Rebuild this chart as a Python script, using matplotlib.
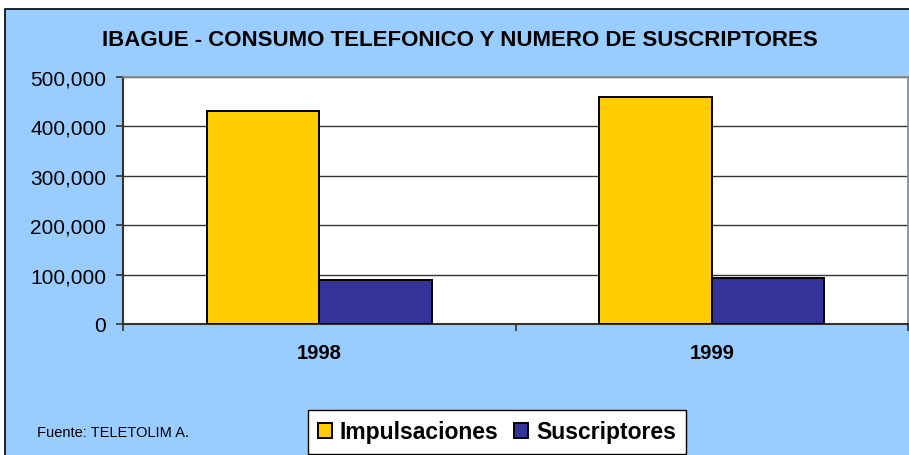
import matplotlib
matplotlib.use("Agg")
import matplotlib.pyplot as plt
from matplotlib.patches import Rectangle
from matplotlib.ticker import FuncFormatter, FixedLocator
import numpy as np

years = ["1998", "1999"]
impulsaciones = [432000, 459000]
suscriptores = [89000, 93000]
series_names = ["Impulsaciones", "Suscriptores"]
title = "IBAGUE - CONSUMO TELEFONICO Y NUMERO DE SUSCRIPTORES"
source = "Fuente: TELETOLIM A."

BG = "#99CCFF"
YEL = "#FFCC00"
BLU = "#333399"
SANS = ["Liberation Sans", "DejaVu Sans"]

W, H = 909, 456
fig = plt.figure(figsize=(W / 100, H / 100), dpi=100)
fig.patch.set_facecolor("white")

# chart area (cropped at right/bottom)
x0, ytop = 5 / W, (H - 10) / H
bgax = fig.add_axes([0, 0, 1, 1], zorder=-10)
bgax.set_axis_off()
bgax.set_xlim(0, 1)
bgax.set_ylim(0, 1)
bgax.add_patch(Rectangle((x0, -0.01), 1.02 - x0, ytop + 0.01,
                         facecolor=BG, edgecolor="black", linewidth=1.2, clip_on=False))

ax = fig.add_axes([123 / W, (H - 325) / H, (908 - 123) / W, (325 - 78) / H])
ax.set_facecolor("white")

x = np.arange(len(years))
bw = 0.287
ax.bar(x - bw, impulsaciones, width=bw, align="edge", color=YEL, edgecolor="black",
       linewidth=1.4, zorder=3, label=series_names[0])
ax.bar(x, suscriptores, width=bw, align="edge", color=BLU, edgecolor="black",
       linewidth=1.4, zorder=3, label=series_names[1])

ax.set_xlim(-0.5, 1.5)
ax.set_ylim(0, 500000)
ax.yaxis.set_major_locator(FixedLocator(np.arange(0, 500001, 100000)))
ax.yaxis.set_major_formatter(FuncFormatter(lambda v, p: f"{int(v):,}"))
ax.grid(axis="y", color="#333333", linewidth=1.0, zorder=1)

ax.set_xticks([-0.5, 0.5, 1.5])
ax.set_xticklabels([])
ax.set_xticks(x, minor=True)
ax.set_xticklabels(years, minor=True, fontsize=14.5, fontweight="bold", family=SANS)
ax.tick_params(axis="x", which="minor", length=0, pad=14)
ax.tick_params(axis="x", which="major", length=5, width=1.2, color="#333333", direction="out")
ax.tick_params(axis="y", length=5, width=1.2, color="#333333", direction="out", pad=7)
for lab in ax.get_yticklabels():
    lab.set_fontsize(15)
    lab.set_family(SANS)

for s in ["left", "bottom"]:
    ax.spines[s].set_color("#333333")
    ax.spines[s].set_linewidth(1.5)
for s in ["top", "right"]:
    ax.spines[s].set_color("#888888")
    ax.spines[s].set_linewidth(1.2)

fig.text(460 / W, (H - 40) / H, title, ha="center", va="center", fontsize=16,
         fontweight="bold", family=SANS)
fig.text(37 / W, (H - 433) / H, source, ha="left", va="center", fontsize=10.5,
         family=SANS)

leg = fig.legend(loc="center", bbox_to_anchor=(497 / W, (H - 433) / H), ncol=2,
                 frameon=True, fancybox=False, edgecolor="black", framealpha=1,
                 prop={"family": SANS, "weight": "bold", "size": 16.5},
                 handlelength=0.6, handleheight=0.6, handletextpad=0.35,
                 columnspacing=0.7, borderpad=0.45, borderaxespad=0)
leg.get_frame().set_linewidth(1.0)

fig.savefig("out.png", dpi=100, facecolor=fig.get_facecolor())
